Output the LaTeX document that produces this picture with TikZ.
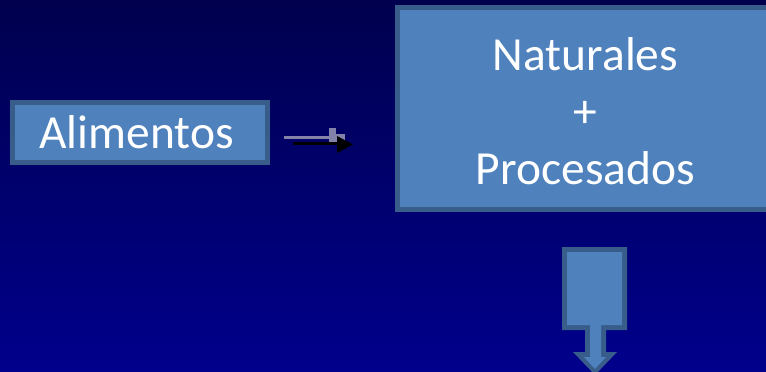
\documentclass[tikz,border=0pt]{standalone}
\usepackage{fontspec}
\setmainfont{Carlito}
\definecolor{bgtop}{RGB}{0,0,78}
\definecolor{bgbot}{RGB}{0,0,140}
\definecolor{boxfill}{RGB}{79,129,189}
\definecolor{boxedge}{RGB}{56,93,138}
\definecolor{shadowgray}{RGB}{130,130,170}
\tikzset{
  panel/.style={fill=boxfill, draw=boxedge, line width=5pt},
  label/.style={text=white, font=\fontsize{47.5}{57}\selectfont, inner sep=0pt, anchor=base},
}
\begin{document}
\begin{tikzpicture}[x=1pt,y=-1pt]
  \useasboundingbox (0,0) rectangle (766,372);
  \clip (0,0) rectangle (766,372);
  % background
  \shade[top color=bgtop, bottom color=bgbot] (0,0) rectangle (766,372);

  % left box
  \draw[panel] (12.5,102.5) rectangle (267.5,162.5);
  \node[label] (alim) at (136.5,148) {Alimentos};

  % right box (runs past the right edge)
  \draw[panel] (397.5,7.5) rectangle (790,209.5);
  \node[label] (nat) at (585.5,70) {Naturales};
  \node[label] (plus) at (585.5,127) {+};
  \node[label] (proc) at (585.5,184) {Procesados};

  % horizontal connector: grey shadow line and black arrow
  \coordinate (g1) at (284,137);
  \coordinate (g2) at (333,137);
  \coordinate (b1) at (293,143.5);
  \coordinate (b2) at (339,143.5);
  \draw[shadowgray, line width=3pt] (g1) -- (g2);
  \fill[shadowgray] (329,128) rectangle (336,142);
  \fill[shadowgray] (336,134) rectangle (345,142);
  \draw[black, line width=2.5pt] (b1) -- (b2);
  \fill[black] (337,136) -- (353,144.5) -- (337,153) -- cycle;

  % down block arrow
  \fill[boxedge] (562,247) -- (627,247) -- (627,330) -- (606,330) -- (606,352)
    -- (617,352) -- (595,375) -- (573,352) -- (585,352) -- (585,330) -- (562,330) -- cycle;
  \fill[boxfill] (567,252) -- (622,252) -- (622,325) -- (601,325) -- (601,357)
    -- (606,357) -- (595,369) -- (584,357) -- (590,357) -- (590,325) -- (567,325) -- cycle;
\end{tikzpicture}
\end{document}
